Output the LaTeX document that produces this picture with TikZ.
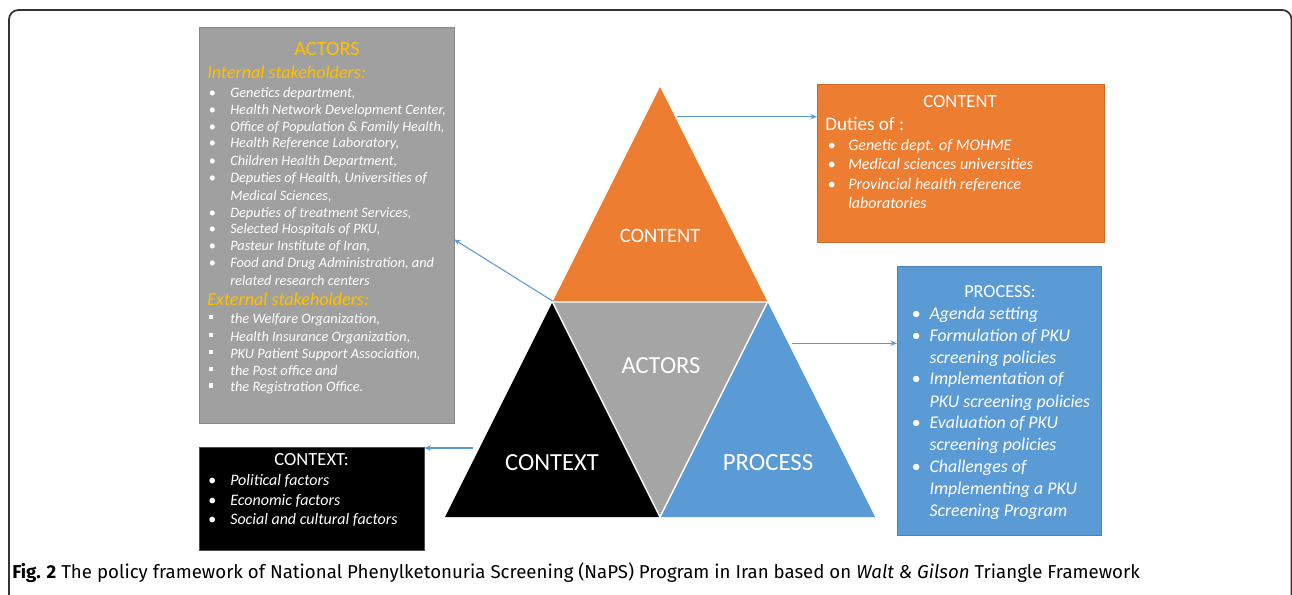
\documentclass[tikz,border=0pt]{standalone}
\usepackage{fontspec}
\setmainfont{Carlito}
\newfontfamily\capfont{Fira Sans}
\usetikzlibrary{arrows.meta,calc}
\definecolor{orng}{HTML}{ED7D31}
\definecolor{gry}{HTML}{A5A5A5}
\definecolor{gbox}{HTML}{A0A0A0}
\definecolor{blu}{HTML}{5B9BD5}
\definecolor{gold}{HTML}{FFC000}
\definecolor{arr}{HTML}{5B9BD5}
\newcommand{\bl}{\makebox[0pt][l]{\textbullet}}
\newcommand{\sq}{\makebox[0pt][l]{\raisebox{0.6ex}{\rule{3.2pt}{3.2pt}}}}
\begin{document}
\begin{tikzpicture}[x=0.75pt,y=-0.75pt,
  box/.style={anchor=north west,inner sep=0pt,outer sep=0pt},
  ln/.style={anchor=base west,inner sep=0pt,text=white},
  ctr/.style={anchor=base,inner sep=0pt,text=white},
  trilabel/.style={text=white,inner sep=0pt},
  conn/.style={draw=arr,line width=0.8pt,-{Stealth[length=5pt,width=4pt]}},
  afont/.style={font=\fontsize{10.75}{12}\selectfont\itshape},
  cfont/.style={font=\fontsize{12}{13}\selectfont\itshape},
  pfont/.style={font=\fontsize{13.4}{14}\selectfont\itshape},
  xfont/.style={font=\fontsize{12}{13}\selectfont\itshape}]
\useasboundingbox (0,0) rectangle (1292,594);
\fill[white] (0,0) rectangle (1292,594);
% frame
\draw[line width=1.3pt,rounded corners=7pt,black!80] (9,620) -- (9,10) -- (1291.5,10) -- (1291.5,620);

% triangle
\coordinate (T) at (660,87);
\coordinate (L) at (445,517);
\coordinate (R) at (875,517);
\coordinate (ML) at ($(T)!0.5!(L)$);
\coordinate (MR) at ($(T)!0.5!(R)$);
\coordinate (MB) at ($(L)!0.5!(R)$);
\fill[orng] (T) -- (ML) -- (MR) -- cycle;
\fill[black] (ML) -- (L) -- (MB) -- cycle;
\fill[blu] (MR) -- (MB) -- (R) -- cycle;
\fill[gry] (ML) -- (MR) -- (MB) -- cycle;
\draw[white,line width=1.1pt] (ML) -- (MR) -- (MB) -- cycle;
\node[trilabel,font=\fontsize{15.3}{16}\selectfont] (tcontent) at (660,236) {CONTENT};
\node[trilabel,font=\fontsize{18.4}{19}\selectfont] (tactors) at (661,366) {ACTORS};
\node[trilabel,font=\fontsize{18.4}{19}\selectfont] (tcontext) at (552,463) {CONTEXT};
\node[trilabel,font=\fontsize{18.6}{19}\selectfont] (tprocess) at (768,463) {PROCESS};

% boxes
\node[box,fill=gbox,draw=gbox!85!black,line width=0.5pt,minimum width=255*0.75pt,minimum height=396*0.75pt] (actorsbox) at (199,27.5) {};
\node[box,fill=orng,draw=orng!85!black,line width=0.5pt,minimum width=287*0.75pt,minimum height=158.5*0.75pt] (contentbox) at (817,84) {};
\node[box,fill=blu,draw=blu!85!black,line width=0.5pt,minimum width=204.5*0.75pt,minimum height=268.5*0.75pt] (processbox) at (897,266.7) {};
\node[box,fill=black,draw=black!70,line width=0.5pt,minimum width=225.3*0.75pt,minimum height=102.7*0.75pt] (contextbox) at (199,447.3) {};

% actors text
\node[ctr,text=gold,font=\fontsize{15.2}{16}\selectfont] (at0) at (327,55.5) {ACTORS};
\node[ln,text=gold,font=\fontsize{13.6}{14}\selectfont\itshape] (at1) at (207,78.5) {Internal stakeholders:};
\foreach \yy/\bb/\tt [count=\i] in {
  92.7/\bl/{Genetics department,},
  110/\bl/{Health Network Development Center,},
  126.5/\bl/{Office of Population \& Family Health,},
  143.3/\bl/{Health Reference Laboratory,},
  161/\bl/{Children Health Department,},
  178.3/\bl/{Deputies of Health, Universities of},
  195.7//{Medical Sciences,},
  212.7/\bl/{Deputies of treatment Services,},
  229/\bl/{Selected Hospitals of PKU,},
  246/\bl/{Pasteur Institute of Iran,},
  263.3/\bl/{Food and Drug Administration, and},
  280.7//{related research centers}}
{
  \node[ln,afont] (ab\i) at (208,\yy+4.5) {\upshape\bb};
  \node[ln,afont] (al\i) at (230,\yy+4.5) {\tt};
}
\node[ln,text=gold,font=\fontsize{13.6}{14}\selectfont\itshape] (at2) at (207,305) {External stakeholders:};
\foreach \yy/\tt [count=\i] in {
  319/{the Welfare Organization,},
  336.7/{Health Insurance Organization,},
  354/{PKU Patient Support Association,},
  370.7/{the Post office and},
  387.3/{the Registration Office.}}
{
  \node[ln,afont] (eb\i) at (208,\yy+4.5) {\upshape\sq};
  \node[ln,afont] (el\i) at (230,\yy+4.5) {\tt};
}

% content text
\node[ctr,font=\fontsize{13.9}{15}\selectfont] (ct0) at (960,107) {CONTENT};
\node[ln,font=\fontsize{14.3}{15}\selectfont] (ct1) at (825,130) {Duties of :};
\foreach \yy/\bb/\tt [count=\i] in {
  145/\bl/{Genetic dept. of MOHME},
  164/\bl/{Medical sciences universities},
  184/\bl/{Provincial health reference},
  203.3//{laboratories}}
{
  \node[ln,cfont] (cb\i) at (827,\yy+5) {\upshape\bb};
  \node[ln,cfont] (cl\i) at (848,\yy+5) {\tt};
}

% process text
\node[ctr,font=\fontsize{13.7}{15}\selectfont] (pt0) at (1000,297) {PROCESS:};
\foreach \yy/\bb/\tt [count=\i] in {
  314/\bl/{Agenda setting},
  336/\bl/{Formulation of PKU},
  358.3//{screening policies},
  379.3/\bl/{Implementation of},
  401.7//{PKU screening policies},
  423.3/\bl/{Evaluation of PKU},
  445//{screening policies},
  467.3/\bl/{Challenges of},
  489.3//{Implementing a PKU},
  510.7//{Screening Program}}
{
  \node[ln,pfont] (pb\i) at (911,\yy+5.5) {\upshape\bb};
  \node[ln,pfont] (pl\i) at (929.3,\yy+5.5) {\tt};
}

% context text
\node[ctr,font=\fontsize{13.9}{15}\selectfont] (xt0) at (311.7,465.5) {CONTEXT:};
\foreach \yy/\tt [count=\i] in {
  480.7/{Political factors},
  500/{Economic factors},
  519.3/{Social and cultural factors}}
{
  \node[ln,xfont] (xb\i) at (208,\yy+5) {\upshape\textbullet};
  \node[ln,xfont] (xl\i) at (230,\yy+5) {\tt};
}

% connectors
\coordinate (sC) at (676.7,116.7);
\coordinate (sA) at (552.5,301);
\coordinate (sP) at (791.7,343.3);
\coordinate (sX) at (473,448);
\draw[conn] (sC) -- (sC -| contentbox.west);
\draw[conn] (sA) -- ($(actorsbox.north east)!0.535!(actorsbox.south east)$);
\draw[conn] (sP) -- (sP -| processbox.west);
\draw[conn] (sX) -- (sX -| contextbox.east);

% caption
\node[anchor=base west,inner sep=0pt,font=\capfont\fontsize{14}{15}\selectfont] (caption) at (12,578)
  {\textbf{Fig. 2} The policy framework of National Phenylketonuria Screening (NaPS) Program in Iran based on \textit{Walt \& Gilson} Triangle Framework};
\end{tikzpicture}
\end{document}
